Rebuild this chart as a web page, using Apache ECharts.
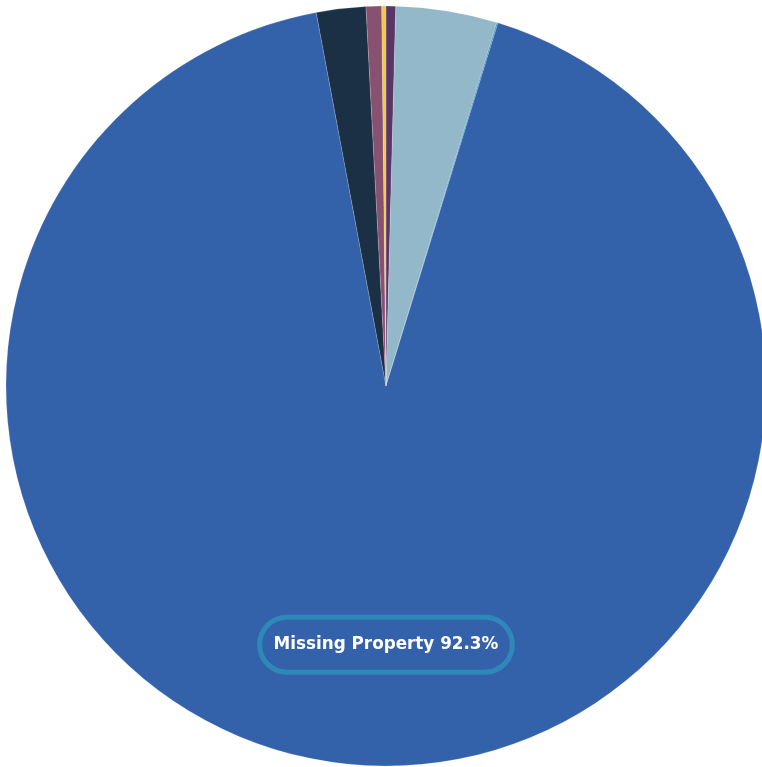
<!DOCTYPE html>
<html>
<head>
<meta charset="utf-8">
<style>
  html, body { margin: 0; padding: 0; background: #ffffff; }
  #chart { width: 762px; height: 767px; }
</style>
<script src="https://cdn.jsdelivr.net/npm/echarts@6/dist/echarts.min.js"></script>
</head>
<body>
<div id="chart"></div>
<script>
// Share of records by category (percent), clockwise from 12 o'clock
const categories = ['Category F', 'Category A', 'Category G', 'Missing Property', 'Category B', 'Category C', 'Category D'];
const shares = [0.41, 4.3, 0.05, 92.3, 2.1, 0.66, 0.18];
const colors = ['#5b3566', '#93b8c9', '#2b8cc0', '#3361aa', '#1b2f45', '#87516f', '#f2c84b'];
const labelled = 'Missing Property';

const chart = echarts.init(document.getElementById('chart'), null, { renderer: 'canvas' });

const data = categories.map((name, i) => ({
  name: name,
  value: shares[i],
  itemStyle: { color: colors[i] },
  label: name === labelled ? {
    show: true,
    position: 'inside',
    offset: [11, 66],
    formatter: p => p.name + ' ' + p.value.toFixed(1) + '%',
    color: '#ffffff',
    fontFamily: 'DejaVu Sans',
    fontWeight: 'bold',
    fontSize: 16.8,
    lineHeight: 19,
    borderColor: '#2e89ba',
    borderWidth: 5,
    borderRadius: 28,
    padding: [18, 14, 18, 14]
  } : { show: false }
}));

chart.setOption({
  animation: false,
  series: [{
    type: 'pie',
    center: [386, 386],
    radius: [0, 380],
    startAngle: 90,
    clockwise: true,
    avoidLabelOverlap: false,
    labelLine: { show: false },
    itemStyle: { borderColor: 'rgba(255,255,255,0.35)', borderWidth: 0.5 },
    emphasis: { disabled: true },
    data: data
  }]
});
</script>
</body>
</html>
